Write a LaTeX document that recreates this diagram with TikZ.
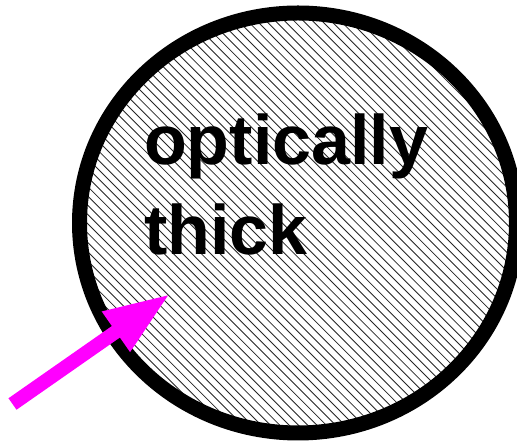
\documentclass[tikz,border=0pt]{standalone}
\usepackage{fontspec}
\setmainfont{Liberation Sans}
\usetikzlibrary{arrows.meta}
\definecolor{arrowmag}{RGB}{255,0,255}
\tikzset{
  rim/.style={draw=black, line width=15pt},
  hatchline/.style={draw=black!85, line width=0.85pt},
  bigtext/.style={font=\fontsize{70}{90}\bfseries\selectfont, inner sep=0pt, anchor=base west},
  beam/.style={draw=arrowmag, line width=14pt, -{Triangle[length=66pt,width=45pt]}}
}
\begin{document}
\begin{tikzpicture}[x=1pt,y=1pt]
\useasboundingbox (0,0) rectangle (517,443);
\fill[white] (0,0) rectangle (517,443);
\begin{scope}
  \clip (298,220) ellipse [x radius=218.5, y radius=210];
  \foreach \c in {0,9.3,...,1000} {
    \draw[hatchline] (\c-520,520) -- (\c+120,-120);
  }
\end{scope}
\draw[rim] (298,220) ellipse [x radius=218.5, y radius=210];
\node[bigtext] (t1) at (144,278) {optically};
\node[bigtext] (t2) at (144,188) {thick};
\coordinate (tail) at (12.5,39);
\coordinate (tip) at (170,149);
\draw[beam] (tail) -- (tip);
\end{tikzpicture}
\end{document}
